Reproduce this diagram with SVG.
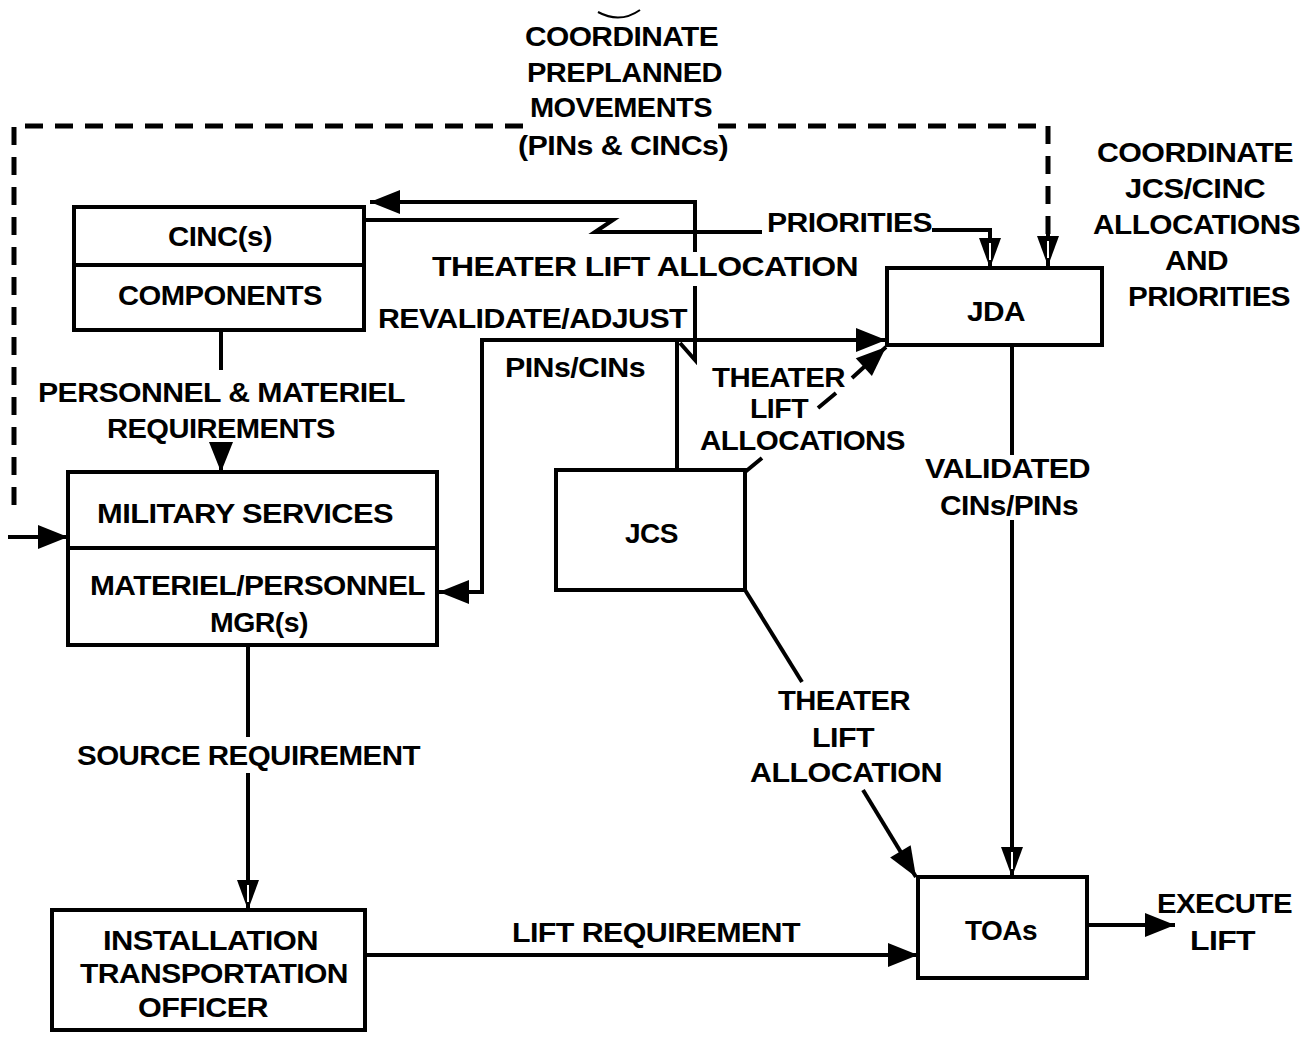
<svg xmlns="http://www.w3.org/2000/svg" width="1306" height="1046" viewBox="0 0 1306 1046">
<style>
text{font-family:"Liberation Sans",Arial,sans-serif;font-weight:bold;font-size:27px;fill:#000;letter-spacing:-0.5px}
.box{fill:#fff;stroke:#000;stroke-width:4}
.div{stroke:#000;stroke-width:4}
.ln{fill:none;stroke:#000;stroke-width:4;stroke-linejoin:miter}
.dash{fill:none;stroke:#000;stroke-width:5;stroke-dasharray:18 12}
</style>
<defs>
<marker id="af" markerUnits="userSpaceOnUse" markerWidth="32" markerHeight="26" refX="30" refY="13" orient="auto" overflow="visible">
<path d="M0,1 L30,13 L0,25 z" fill="#000"/>
</marker>
<marker id="ao" markerUnits="userSpaceOnUse" markerWidth="32" markerHeight="26" refX="30" refY="12" orient="auto" overflow="visible">
<path d="M0,1 L30,12 L0,23 z" fill="#000"/>
<path d="M5,12 L22,12" stroke="#fff" stroke-width="2"/>
</marker>
</defs>

<g id="connectors">
<path class="dash" d="M14 505 V126 H525"/>
<path class="dash" d="M718 126 H1048 V236"/>
<path class="ln" d="M1048 232 V266" marker-end="url(#ao)"/>
<path class="ln" d="M8 537 H68" marker-end="url(#af)"/>
<path class="ln" d="M695 252 V202 H370" marker-end="url(#af)"/>
<path class="ln" d="M695 286 V360 L680 343"/>
<path class="ln" d="M363 220 H613 L595 232 H762"/>
<path class="ln" d="M932 230 H990 V268" marker-end="url(#ao)"/>
<path class="ln" d="M677 470 V340 H886" marker-end="url(#af)"/>
<path class="ln" d="M677 340 H482 V592 H439" marker-end="url(#af)"/>
<path class="ln" d="M221 330 V370"/>
<path class="ln" d="M221 442 V472" marker-end="url(#af)"/>
<path class="ln" d="M248 645 V737 M248 773 V910" marker-end="url(#ao)"/>
<path class="ln" d="M365 955 H918" marker-end="url(#af)"/>
<path class="ln" d="M745 590 L802 682"/>
<path class="ln" d="M863 790 L916 877" marker-end="url(#af)" stroke-width="5"/>
<path class="ln" d="M745 472 L762 458 M818 408 L836 393 M852 378 L886 347" marker-end="url(#af)"/>
<path class="ln" d="M1012 345 V455 M1012 520 V877" marker-end="url(#ao)"/>
<path class="ln" d="M1087 925 H1175" marker-end="url(#af)"/>
<path d="M598 12 Q620 24 640 10" fill="none" stroke="#000" stroke-width="2"/>
</g>

<g id="cinc">
<rect class="box" x="74" y="207" width="290" height="123"/>
<line class="div" x1="74" y1="265" x2="364" y2="265"/>
<text x="168" y="246" textLength="104" lengthAdjust="spacingAndGlyphs">CINC(s)</text>
<text x="118" y="305" textLength="204" lengthAdjust="spacingAndGlyphs">COMPONENTS</text>
</g>

<g id="military">
<rect class="box" x="68" y="472" width="369" height="173"/>
<line class="div" x1="68" y1="548" x2="437" y2="548"/>
<text x="97" y="523" textLength="296" lengthAdjust="spacingAndGlyphs">MILITARY SERVICES</text>
<text x="90" y="595" textLength="335" lengthAdjust="spacingAndGlyphs">MATERIEL/PERSONNEL</text>
<text x="210" y="632" textLength="98" lengthAdjust="spacingAndGlyphs">MGR(s)</text>
</g>

<g id="jcs">
<rect class="box" x="556" y="470" width="189" height="120"/>
<text x="625" y="543" textLength="53" lengthAdjust="spacingAndGlyphs">JCS</text>
</g>

<g id="jda">
<rect class="box" x="887" y="268" width="215" height="77"/>
<text x="967" y="321" textLength="58" lengthAdjust="spacingAndGlyphs">JDA</text>
</g>

<g id="toas">
<rect class="box" x="918" y="877" width="169" height="101"/>
<text x="965" y="940" textLength="72" lengthAdjust="spacingAndGlyphs">TOAs</text>
</g>

<g id="ito">
<rect class="box" x="52" y="910" width="313" height="120"/>
<text x="103" y="950" textLength="215" lengthAdjust="spacingAndGlyphs">INSTALLATION</text>
<text x="80" y="983" textLength="268" lengthAdjust="spacingAndGlyphs">TRANSPORTATION</text>
<text x="138" y="1017" textLength="130" lengthAdjust="spacingAndGlyphs">OFFICER</text>
</g>

<g id="labels">
<text x="525" y="46" textLength="193" lengthAdjust="spacingAndGlyphs">COORDINATE</text>
<text x="527" y="82" textLength="195" lengthAdjust="spacingAndGlyphs">PREPLANNED</text>
<text x="530" y="117" textLength="182" lengthAdjust="spacingAndGlyphs">MOVEMENTS</text>
<text x="518" y="155" textLength="210" lengthAdjust="spacingAndGlyphs">(PINs &amp; CINCs)</text>
<text x="1097" y="162" textLength="196" lengthAdjust="spacingAndGlyphs">COORDINATE</text>
<text x="1125" y="198" textLength="140" lengthAdjust="spacingAndGlyphs">JCS/CINC</text>
<text x="1093" y="234" textLength="207" lengthAdjust="spacingAndGlyphs">ALLOCATIONS</text>
<text x="1165" y="270" textLength="63" lengthAdjust="spacingAndGlyphs">AND</text>
<text x="1128" y="306" textLength="162" lengthAdjust="spacingAndGlyphs">PRIORITIES</text>
<text x="767" y="232" textLength="165" lengthAdjust="spacingAndGlyphs">PRIORITIES</text>
<text x="432" y="276" textLength="426" lengthAdjust="spacingAndGlyphs">THEATER  LIFT ALLOCATION</text>
<text x="378" y="328" textLength="309" lengthAdjust="spacingAndGlyphs">REVALIDATE/ADJUST</text>
<text x="505" y="377" textLength="140" lengthAdjust="spacingAndGlyphs">PINs/CINs</text>
<text x="712" y="387" textLength="133" lengthAdjust="spacingAndGlyphs">THEATER</text>
<text x="750" y="418" textLength="58" lengthAdjust="spacingAndGlyphs">LIFT</text>
<text x="700" y="450" textLength="205" lengthAdjust="spacingAndGlyphs">ALLOCATIONS</text>
<text x="38" y="402" textLength="367" lengthAdjust="spacingAndGlyphs">PERSONNEL &amp; MATERIEL</text>
<text x="107" y="438" textLength="228" lengthAdjust="spacingAndGlyphs">REQUIREMENTS</text>
<text x="925" y="478" textLength="165" lengthAdjust="spacingAndGlyphs">VALIDATED</text>
<text x="940" y="515" textLength="138" lengthAdjust="spacingAndGlyphs">CINs/PINs</text>
<text x="77" y="765" textLength="343" lengthAdjust="spacingAndGlyphs">SOURCE REQUIREMENT</text>
<text x="778" y="710" textLength="132" lengthAdjust="spacingAndGlyphs">THEATER</text>
<text x="812" y="747" textLength="62" lengthAdjust="spacingAndGlyphs">LIFT</text>
<text x="750" y="782" textLength="192" lengthAdjust="spacingAndGlyphs">ALLOCATION</text>
<text x="512" y="942" textLength="288" lengthAdjust="spacingAndGlyphs">LIFT REQUIREMENT</text>
<text x="1157" y="913" textLength="135" lengthAdjust="spacingAndGlyphs">EXECUTE</text>
<text x="1190" y="950" textLength="65" lengthAdjust="spacingAndGlyphs">LIFT</text>
</g>
</svg>
